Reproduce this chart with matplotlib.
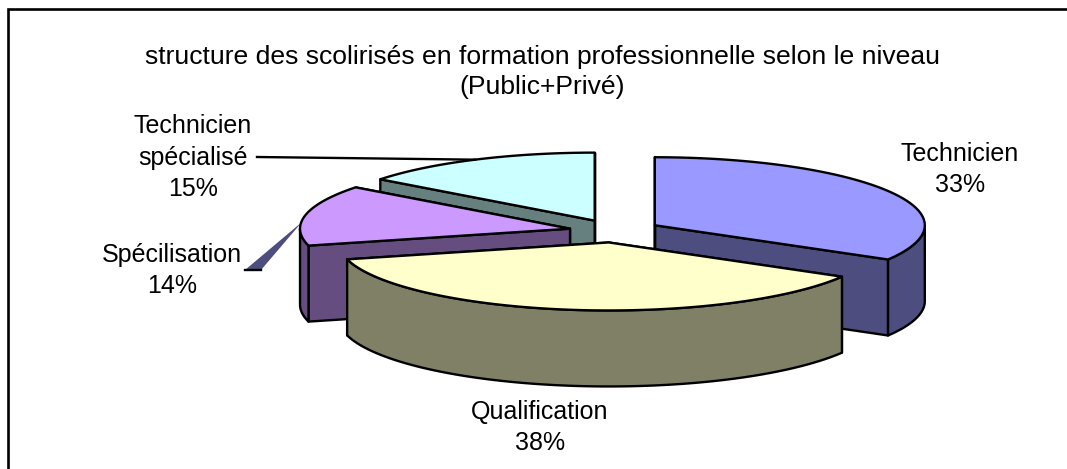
"""
Exploded 3D-look pie: scolarises en formation professionnelle par niveau.
"""
import numpy as np
import matplotlib
matplotlib.use('Agg')
import matplotlib.pyplot as plt
from matplotlib.patches import Polygon

plt.rcParams['font.family'] = ['Liberation Sans', 'DejaVu Sans']

# clockwise from 12 o'clock
categories = ['Technicien', 'Qualification', 'Spécilisation', 'Technicien\nspécialisé']
values = [33.4, 37.6, 14.4, 14.6]
top_colors = ['#9999FF', '#FFFFCC', '#CC99FF', '#CCFFFF']
side_colors = ['#4D4D80', '#808066', '#664D80', '#668080']
title = 'structure des scolirisés en formation professionnelle selon le niveau\n(Public+Privé)'

# pie geometry in pixels
CX, CY = 615, 231
RX, RY = 270, 68
DEPTH = 76
EXPLODE = 0.17

fig = plt.figure(figsize=(10.67, 4.69), dpi=100)
ax = fig.add_axes([0, 0, 1, 1])
ax.set_xlim(0, 1067)
ax.set_ylim(469, 0)
ax.axis('off')

# frame is cut off on the right and at the bottom
ax.plot([8, 8, 1067], [469, 9, 9], color='black', lw=1.9, solid_joinstyle='miter')
ax.text(542.5, 72, title, ha='center', va='center', fontsize=19.05, color='black', linespacing=1.31)


def ellipse_pts(a0, a1, cx, cy, dy=0):
    t = np.radians(np.linspace(a0, a1, 120))
    return np.column_stack([cx + RX * np.sin(t), cy - RY * np.cos(t) + dy])


def draw_slice(a0, a1, top, side, z):
    mid = np.radians((a0 + a1) / 2)
    cx = CX + EXPLODE * RX * np.sin(mid)
    cy = CY - EXPLODE * RY * np.cos(mid)
    style = dict(ec='black', lw=1.7, joinstyle='round', zorder=z)
    # radial walls first
    for a in (a1, a0):
        p = ellipse_pts(a, a, cx, cy)[0]
        wall = [(cx, cy), p, (p[0], p[1] + DEPTH), (cx, cy + DEPTH)]
        ax.add_patch(Polygon(wall, fc=side, **style))
    # outer rim, only the part that faces the viewer
    lo, hi = max(a0, 90), min(a1, 270)
    if lo < hi:
        upper = ellipse_pts(lo, hi, cx, cy)
        lower = ellipse_pts(hi, lo, cx, cy, DEPTH)
        ax.add_patch(Polygon(np.vstack([upper, lower]), fc=side, **style))
    arc = ellipse_pts(a0, a1, cx, cy)
    ax.add_patch(Polygon(np.vstack([[(cx, cy)], arc]), fc=top, **style))
    return cx, cy


edges = np.concatenate([[0], np.cumsum(values)]) / np.sum(values) * 360

# back to front
centers = {}
for i, z in zip([3, 2, 0, 1], [3, 4, 5, 6]):
    centers[i] = draw_slice(edges[i], edges[i + 1], top_colors[i], side_colors[i], z)

# leader lines
mid3 = (edges[3] + edges[4]) / 2
p3 = ellipse_pts(mid3, mid3, *centers[3])[0]
ax.plot([257, p3[0]], [157, p3[1]], color='black', lw=1.7, zorder=3.5)
ax.add_patch(Polygon([(245, 270), (261, 270), (302, 222)], fc=side_colors[0], ec='none', zorder=3.5))
ax.plot([245, 261], [270, 270], color='black', lw=1.7, zorder=3.5)

label_pos = [(960, 169.5), (540, 427.5), (172, 270.5), (193, 157.5)]
for name, v, (x, y) in zip(categories, values, label_pos):
    ax.text(x, y, f'{name}\n{round(v)}%', ha='center', va='center', fontsize=18,
            color='black', linespacing=1.38, zorder=10)

fig.savefig('out.png', dpi=100)
